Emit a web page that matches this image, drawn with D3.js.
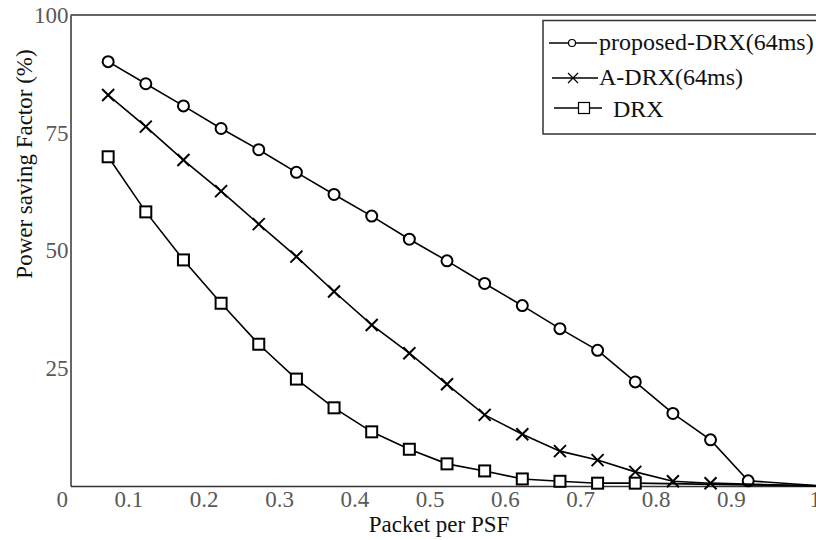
<!DOCTYPE html>
<html>
<head>
<meta charset="utf-8">
<script src="https://cdn.jsdelivr.net/npm/d3@7"></script>
<style>
  body { margin: 0; background: #fff; }
  svg, svg text { font-family: "Liberation Serif", "Times New Roman", serif; }
</style>
</head>
<body>
<div id="chart"></div>
<script>
// packet per PSF for each curve (last point sits on the x=1 edge)
var xProposed = [0.05, 0.10, 0.15, 0.20, 0.25, 0.30, 0.35, 0.40, 0.45, 0.50, 0.55, 0.60, 0.65, 0.70, 0.75, 0.80, 0.85, 0.90, 1.0];
var xADrx     = [0.05, 0.10, 0.15, 0.20, 0.25, 0.30, 0.35, 0.40, 0.45, 0.50, 0.55, 0.60, 0.65, 0.70, 0.75, 0.80, 0.85, 1.0];
var xDrx      = [0.05, 0.10, 0.15, 0.20, 0.25, 0.30, 0.35, 0.40, 0.45, 0.50, 0.55, 0.60, 0.65, 0.70, 0.75, 1.0];

// power saving factor (%)
var proposedDrx = [90.1, 85.4, 80.7, 75.9, 71.4, 66.6, 61.9, 57.3, 52.4, 47.8, 43.0, 38.3, 33.4, 28.8, 22.1, 15.4, 9.8, 1.1, 0];
var aDrx        = [83.0, 76.3, 69.2, 62.6, 55.6, 48.7, 41.3, 34.2, 28.2, 21.6, 15.1, 11.0, 7.4, 5.5, 3.0, 1.0, 0.6, 0];
var drx         = [69.9, 58.2, 48.0, 38.8, 30.1, 22.7, 16.6, 11.5, 7.8, 4.7, 3.2, 1.5, 1.0, 0.6, 0.6, 0];

var seriesNames = ["proposed-DRX(64ms)", "A-DRX(64ms)", "DRX"];
var markerTypes = ["circle", "cross", "square"];
var xTicks = [0, 0.1, 0.2, 0.3, 0.4, 0.5, 0.6, 0.7, 0.8, 0.9, 1];
var yTicks = [25, 50, 75, 100];

var series = [
  { name: seriesNames[0], marker: markerTypes[0], xs: xProposed, ys: proposedDrx },
  { name: seriesNames[1], marker: markerTypes[1], xs: xADrx, ys: aDrx },
  { name: seriesNames[2], marker: markerTypes[2], xs: xDrx, ys: drx }
];

var W = 816, H = 540;
var svg = d3.select("#chart").append("svg")
    .attr("width", W)
    .attr("height", H);

var x = d3.scaleLinear().domain([0, 1]).range([70.5, 823.5]);
var y = d3.scaleLinear().domain([0, 100]).range([486, 15]);

// frame top line (right side falls off the picture)
svg.append("line")
    .attr("x1", x(0)).attr("x2", W)
    .attr("y1", y(100)).attr("y2", y(100))
    .attr("stroke", "#333").attr("stroke-width", 1.5);

// x axis
var gx = svg.append("g")
    .attr("transform", "translate(0," + y(0) + ")")
    .call(d3.axisBottom(x).tickValues(xTicks).tickSize(0).tickSizeOuter(0)
        .tickFormat(function(d) { return d === 0 || d === 1 ? String(d) : d3.format(".1f")(d); }));
gx.attr("font-family", null).attr("font-size", 23);
gx.select(".domain").attr("stroke", "#333").attr("stroke-width", 1.5);
gx.selectAll("text")
    .attr("fill", "#595959")
    .attr("text-anchor", "end")
    .attr("dx", -3)
    .attr("dy", 0)
    .attr("y", 21);

// y axis
var gy = svg.append("g")
    .attr("transform", "translate(" + x(0) + ",0)")
    .call(d3.axisLeft(y).tickValues(yTicks).tickSize(0).tickSizeOuter(0).tickPadding(2));
gy.attr("font-family", null).attr("font-size", 23);
gy.select(".domain").attr("stroke", "#333").attr("stroke-width", 1.5);
gy.selectAll("text")
    .attr("fill", "#595959");

// axis titles
svg.append("text")
    .attr("x", 439).attr("y", 532)
    .attr("text-anchor", "middle")
    .attr("font-size", 23)
    .attr("fill", "#111")
    .text("Packet per PSF");

svg.append("text")
    .attr("transform", "translate(32,164) rotate(-90)")
    .attr("text-anchor", "middle")
    .attr("font-size", 23)
    .attr("fill", "#111")
    .text("Power saving Factor (%)");

// draws a marker of given type at (cx, cy)
function drawMarker(g, type, cx, cy, s) {
  if (type == "circle") {
    g.append("circle").attr("cx", cx).attr("cy", cy).attr("r", s)
      .attr("fill", "#fff").attr("stroke", "#000").attr("stroke-width", 2);
  } else if (type == "square") {
    g.append("rect").attr("x", cx - s).attr("y", cy - s).attr("width", 2 * s).attr("height", 2 * s)
      .attr("fill", "#fff").attr("stroke", "#000").attr("stroke-width", 2);
  } else {
    g.append("path")
      .attr("d", "M" + (cx - s) + "," + (cy - s) + "L" + (cx + s) + "," + (cy + s) +
                 "M" + (cx - s) + "," + (cy + s) + "L" + (cx + s) + "," + (cy - s))
      .attr("stroke", "#000").attr("stroke-width", 2).attr("fill", "none");
  }
}

var line = d3.line()
    .x(function(d) { return x(d[0]); })
    .y(function(d) { return y(d[1]); });

series.forEach(function(s) {
  var pts = s.xs.map(function(v, i) { return [v, s.ys[i]]; });
  svg.append("path")
      .datum(pts)
      .attr("d", line)
      .attr("fill", "none")
      .attr("stroke", "#000")
      .attr("stroke-width", 1.6);
  var g = svg.append("g");
  pts.forEach(function(p) {
    drawMarker(g, s.marker, x(p[0]), y(p[1]), s.marker == "cross" ? 6 : 5.5);
  });
});

// legend
var lg = svg.append("g");
lg.append("rect")
    .attr("x", 543).attr("y", 20.5)
    .attr("width", 300).attr("height", 113.5)
    .attr("fill", "#fff")
    .attr("stroke", "#333").attr("stroke-width", 1.5);

var legendRows = [
  { x1: 549, x2: 597, mx: 572, ly: 43, tx: 599, ty: 50, ms: 3.5 },
  { x1: 552, x2: 598, mx: 573, ly: 78, tx: 599, ty: 85, ms: 5 },
  { x1: 554, x2: 602, mx: 584, ly: 108, tx: 613, ty: 117, ms: 5.5 }
];
legendRows.forEach(function(r, i) {
  lg.append("line")
      .attr("x1", r.x1).attr("x2", r.x2)
      .attr("y1", r.ly).attr("y2", r.ly)
      .attr("stroke", "#000").attr("stroke-width", 1.3);
  var mg = lg.append("g");
  drawMarker(mg, markerTypes[i], r.mx, r.ly, r.ms);
  mg.selectAll("*").attr("stroke-width", 1.2);
  lg.append("text")
      .attr("x", r.tx).attr("y", r.ty)
      .attr("font-size", 24)
      .attr("fill", "#111")
      .text(seriesNames[i]);
});
</script>
</body>
</html>
